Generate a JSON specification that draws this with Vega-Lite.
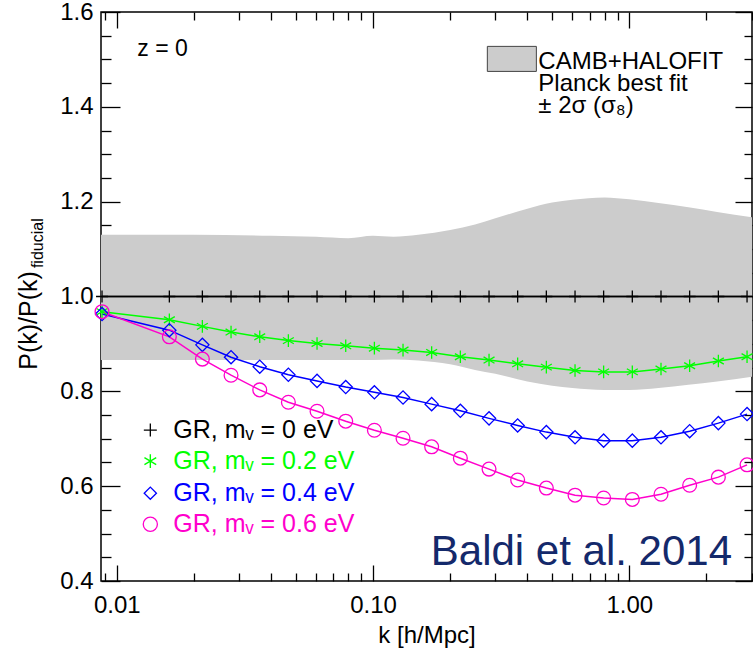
{
  "$schema": "https://vega.github.io/schema/vega-lite/v6.json",
  "width": 651,
  "height": 569,
  "autosize": {"type": "none"},
  "padding": {"left": 101, "top": 12, "right": 1, "bottom": 69},
  "config": {
    "view": {"stroke": "#000000", "strokeWidth": 1.5},
    "font": "Liberation Sans",
    "axis": {"grid": false, "domain": false, "tickColor": "#000000", "tickWidth": 1.3, "labelColor": "#000000", "titleColor": "#000000", "labelFont": "Liberation Sans", "titleFont": "Liberation Sans", "titleFontWeight": "normal", "labelOverlap": false, "labelFlush": false}
  },
  "datasets": {
    "band": [
      {"k": 0.00868, "lo": 0.866, "hi": 1.13},
      {"k": 0.02, "lo": 0.866, "hi": 1.13},
      {"k": 0.04, "lo": 0.866, "hi": 1.128},
      {"k": 0.06, "lo": 0.866, "hi": 1.126},
      {"k": 0.08, "lo": 0.866, "hi": 1.123},
      {"k": 0.1, "lo": 0.866, "hi": 1.128},
      {"k": 0.12, "lo": 0.867, "hi": 1.126},
      {"k": 0.15, "lo": 0.865, "hi": 1.13},
      {"k": 0.2, "lo": 0.857, "hi": 1.14},
      {"k": 0.25, "lo": 0.845, "hi": 1.152},
      {"k": 0.3, "lo": 0.837, "hi": 1.165},
      {"k": 0.4, "lo": 0.821, "hi": 1.185},
      {"k": 0.5, "lo": 0.812, "hi": 1.198},
      {"k": 0.6, "lo": 0.807, "hi": 1.204},
      {"k": 0.8, "lo": 0.803, "hi": 1.209},
      {"k": 1.0, "lo": 0.803, "hi": 1.205},
      {"k": 1.3, "lo": 0.807, "hi": 1.197},
      {"k": 1.7, "lo": 0.814, "hi": 1.188},
      {"k": 2.2, "lo": 0.821, "hi": 1.178},
      {"k": 3.01, "lo": 0.831, "hi": 1.167}
    ],
    "pk": [
      {"k": 0.00876, "s": "0", "r": 1}, {"k": 0.01604, "s": "0", "r": 1}, {"k": 0.02158, "s": "0", "r": 1}, {"k": 0.02792, "s": "0", "r": 1},
      {"k": 0.03613, "s": "0", "r": 1}, {"k": 0.04673, "s": "0", "r": 1}, {"k": 0.06046, "s": "0", "r": 1}, {"k": 0.07823, "s": "0", "r": 1},
      {"k": 0.1012, "s": "0", "r": 1}, {"k": 0.1309, "s": "0", "r": 1}, {"k": 0.1693, "s": "0", "r": 1}, {"k": 0.2191, "s": "0", "r": 1},
      {"k": 0.2835, "s": "0", "r": 1}, {"k": 0.3666, "s": "0", "r": 1}, {"k": 0.4744, "s": "0", "r": 1}, {"k": 0.6139, "s": "0", "r": 1},
      {"k": 0.7937, "s": "0", "r": 1}, {"k": 1.027, "s": "0", "r": 1}, {"k": 1.329, "s": "0", "r": 1}, {"k": 1.719, "s": "0", "r": 1},
      {"k": 2.225, "s": "0", "r": 1}, {"k": 2.879, "s": "0", "r": 1},

      {"k": 0.00876, "s": "0.2", "r": 0.968}, {"k": 0.01604, "s": "0.2", "r": 0.951}, {"k": 0.02158, "s": "0.2", "r": 0.937}, {"k": 0.02792, "s": "0.2", "r": 0.925},
      {"k": 0.03613, "s": "0.2", "r": 0.915}, {"k": 0.04673, "s": "0.2", "r": 0.907}, {"k": 0.06046, "s": "0.2", "r": 0.901}, {"k": 0.07823, "s": "0.2", "r": 0.896},
      {"k": 0.1012, "s": "0.2", "r": 0.891}, {"k": 0.1309, "s": "0.2", "r": 0.887}, {"k": 0.1693, "s": "0.2", "r": 0.882}, {"k": 0.2191, "s": "0.2", "r": 0.873},
      {"k": 0.2835, "s": "0.2", "r": 0.866}, {"k": 0.3666, "s": "0.2", "r": 0.858}, {"k": 0.4744, "s": "0.2", "r": 0.851}, {"k": 0.6139, "s": "0.2", "r": 0.844},
      {"k": 0.7937, "s": "0.2", "r": 0.841}, {"k": 1.027, "s": "0.2", "r": 0.841}, {"k": 1.329, "s": "0.2", "r": 0.847}, {"k": 1.719, "s": "0.2", "r": 0.854},
      {"k": 2.225, "s": "0.2", "r": 0.864}, {"k": 2.879, "s": "0.2", "r": 0.873},

      {"k": 0.00876, "s": "0.4", "r": 0.963}, {"k": 0.01604, "s": "0.4", "r": 0.929}, {"k": 0.02158, "s": "0.4", "r": 0.898}, {"k": 0.02792, "s": "0.4", "r": 0.872},
      {"k": 0.03613, "s": "0.4", "r": 0.852}, {"k": 0.04673, "s": "0.4", "r": 0.835}, {"k": 0.06046, "s": "0.4", "r": 0.822}, {"k": 0.07823, "s": "0.4", "r": 0.809},
      {"k": 0.1012, "s": "0.4", "r": 0.798}, {"k": 0.1309, "s": "0.4", "r": 0.787}, {"k": 0.1693, "s": "0.4", "r": 0.773}, {"k": 0.2191, "s": "0.4", "r": 0.759},
      {"k": 0.2835, "s": "0.4", "r": 0.743}, {"k": 0.3666, "s": "0.4", "r": 0.728}, {"k": 0.4744, "s": "0.4", "r": 0.714}, {"k": 0.6139, "s": "0.4", "r": 0.703},
      {"k": 0.7937, "s": "0.4", "r": 0.696}, {"k": 1.027, "s": "0.4", "r": 0.696}, {"k": 1.329, "s": "0.4", "r": 0.703}, {"k": 1.719, "s": "0.4", "r": 0.716},
      {"k": 2.225, "s": "0.4", "r": 0.733}, {"k": 2.879, "s": "0.4", "r": 0.752},

      {"k": 0.00876, "s": "0.6", "r": 0.968}, {"k": 0.01604, "s": "0.6", "r": 0.915}, {"k": 0.02158, "s": "0.6", "r": 0.868}, {"k": 0.02792, "s": "0.6", "r": 0.834},
      {"k": 0.03613, "s": "0.6", "r": 0.803}, {"k": 0.04673, "s": "0.6", "r": 0.777}, {"k": 0.06046, "s": "0.6", "r": 0.758}, {"k": 0.07823, "s": "0.6", "r": 0.737},
      {"k": 0.1012, "s": "0.6", "r": 0.718}, {"k": 0.1309, "s": "0.6", "r": 0.701}, {"k": 0.1693, "s": "0.6", "r": 0.683}, {"k": 0.2191, "s": "0.6", "r": 0.659},
      {"k": 0.2835, "s": "0.6", "r": 0.636}, {"k": 0.3666, "s": "0.6", "r": 0.613}, {"k": 0.4744, "s": "0.6", "r": 0.596}, {"k": 0.6139, "s": "0.6", "r": 0.581},
      {"k": 0.7937, "s": "0.6", "r": 0.575}, {"k": 1.027, "s": "0.6", "r": 0.572}, {"k": 1.329, "s": "0.6", "r": 0.583}, {"k": 1.719, "s": "0.6", "r": 0.602},
      {"k": 2.225, "s": "0.6", "r": 0.619}, {"k": 2.879, "s": "0.6", "r": 0.645}
    ]
  },
  "layer": [
    {
      "data": {"name": "band"},
      "mark": {"type": "area", "color": "#cccccc", "interpolate": "monotone"},
      "encoding": {
        "x": {"field": "k", "type": "quantitative", "scale": {"type": "log", "domain": [0.00868, 3.01], "nice": false},
          "axis": {"orient": "bottom",
            "values": [0.009, 0.01, 0.02, 0.03, 0.04, 0.05, 0.06, 0.07, 0.08, 0.09, 0.1, 0.2, 0.3, 0.4, 0.5, 0.6, 0.7, 0.8, 0.9, 1, 2, 3],
            "labelExpr": "(datum.value == 0.01 || datum.value == 0.1 || datum.value == 1) ? format(datum.value, '.2f') : ''",
            "tickSize": {"condition": {"test": "datum.value == 0.01 || datum.value == 0.1 || datum.value == 1", "value": -16}, "value": -8},
            "labelFontSize": 24, "labelBaseline": "middle", "labelPadding": 40,
            "title": "k [h/Mpc]", "titleFontSize": 24, "titleY": 54, "titleBaseline": "middle"}},
        "y": {"field": "lo", "type": "quantitative", "scale": {"domain": [0.4, 1.6], "nice": false, "zero": false},
          "axis": {"orient": "left",
            "values": [0.4, 0.45, 0.5, 0.55, 0.6, 0.65, 0.7, 0.75, 0.8, 0.85, 0.9, 0.95, 1, 1.05, 1.1, 1.15, 1.2, 1.25, 1.3, 1.35, 1.4, 1.45, 1.5, 1.55, 1.6],
            "labelExpr": "round(datum.value * 100) % 20 == 0 ? format(datum.value, '.1f') : ''",
            "tickSize": {"condition": {"test": "round(datum.value * 100) % 20 == 0", "value": -19}, "value": -10},
            "labelFontSize": 24, "labelPadding": 27,
            "title": "P(k)/P(k)", "titleFontSize": 25, "titleAngle": 270, "titleX": -73, "titleY": 308, "titleAlign": "center", "titleBaseline": "middle"}},
        "y2": {"field": "hi"}
      }
    },
    {
      "data": {"values": [{}]},
      "mark": {"type": "rule", "color": "#000000", "strokeWidth": 1.6},
      "encoding": {
        "y": {"datum": 1, "type": "quantitative", "scale": {"domain": [0.4, 1.6], "nice": false, "zero": false}, "axis": null}
      }
    },
    {
      "data": {"name": "pk"},
      "mark": {"type": "line", "strokeWidth": 1.5},
      "encoding": {
        "x": {"field": "k", "type": "quantitative", "scale": {"type": "log", "domain": [0.00868, 3.01], "nice": false},
          "axis": {"orient": "top", "labels": false, "title": null,
            "values": [0.009, 0.01, 0.02, 0.03, 0.04, 0.05, 0.06, 0.07, 0.08, 0.09, 0.1, 0.2, 0.3, 0.4, 0.5, 0.6, 0.7, 0.8, 0.9, 1, 2, 3],
            "tickSize": {"condition": {"test": "datum.value == 0.01 || datum.value == 0.1 || datum.value == 1", "value": -16}, "value": -8}}},
        "y": {"field": "r", "type": "quantitative", "scale": {"domain": [0.4, 1.6], "nice": false, "zero": false},
          "axis": {"orient": "right", "labels": false, "title": null,
            "values": [0.4, 0.45, 0.5, 0.55, 0.6, 0.65, 0.7, 0.75, 0.8, 0.85, 0.9, 0.95, 1, 1.05, 1.1, 1.15, 1.2, 1.25, 1.3, 1.35, 1.4, 1.45, 1.5, 1.55, 1.6],
            "tickSize": {"condition": {"test": "round(datum.value * 100) % 20 == 0", "value": -17}, "value": -8}}},
        "stroke": {"field": "s", "type": "nominal", "scale": {"domain": ["0", "0.2", "0.4", "0.6"], "range": ["#000000", "#00ff00", "#0000ff", "#ff00cc"]}, "legend": null}
      }
    },
    {
      "data": {"name": "pk"},
      "mark": {"type": "point", "filled": false, "strokeWidth": 1.3, "opacity": 1},
      "encoding": {
        "x": {"field": "k", "type": "quantitative", "scale": {"type": "log", "domain": [0.00868, 3.01], "nice": false}, "axis": null},
        "y": {"field": "r", "type": "quantitative", "scale": {"domain": [0.4, 1.6], "nice": false, "zero": false}, "axis": null},
        "color": {"field": "s", "type": "nominal", "scale": {"domain": ["0", "0.2", "0.4", "0.6"], "range": ["#000000", "#00ff00", "#0000ff", "#ff00cc"]}, "legend": null},
        "shape": {"field": "s", "type": "nominal", "scale": {"domain": ["0", "0.2", "0.4", "0.6"], "range": ["M-1,0L1,0M0,-1L0,1", "M0,-1L0,1M-0.866,-0.5L0.866,0.5M-0.866,0.5L0.866,-0.5", "diamond", "circle"]}, "legend": null},
        "size": {"field": "s", "type": "ordinal", "scale": {"domain": ["0", "0.2", "0.4", "0.6"], "range": [144, 190, 125, 140]}, "legend": null}
      }
    },
    {
      "data": {"values": [{}]},
      "mark": {"type": "point", "filled": false, "size": 169, "strokeWidth": 1.3, "opacity": 1},
      "encoding": {
        "x": {"datum": 0.01352, "type": "quantitative", "scale": {"type": "log", "domain": [0.00868, 3.01], "nice": false}, "axis": null},
        "y": {"datum": 0.7183, "type": "quantitative", "scale": {"domain": [0.4, 1.6], "nice": false, "zero": false}, "axis": null},
        "color": {"datum": "0", "type": "nominal", "legend": null},
        "shape": {"datum": "0", "type": "nominal", "legend": null}
      }
    },
    {
      "data": {"values": [{}]},
      "mark": {"type": "point", "filled": false, "size": 185, "strokeWidth": 1.4, "opacity": 1},
      "encoding": {
        "x": {"datum": 0.01352, "type": "quantitative", "scale": {"type": "log", "domain": [0.00868, 3.01], "nice": false}, "axis": null},
        "y": {"datum": 0.6528, "type": "quantitative", "scale": {"domain": [0.4, 1.6], "nice": false, "zero": false}, "axis": null},
        "color": {"datum": "0.2", "type": "nominal", "legend": null},
        "shape": {"datum": "0.2", "type": "nominal", "legend": null}
      }
    },
    {
      "data": {"values": [{}]},
      "mark": {"type": "point", "filled": false, "size": 150, "strokeWidth": 1.3, "opacity": 1},
      "encoding": {
        "x": {"datum": 0.01352, "type": "quantitative", "scale": {"type": "log", "domain": [0.00868, 3.01], "nice": false}, "axis": null},
        "y": {"datum": 0.5852, "type": "quantitative", "scale": {"domain": [0.4, 1.6], "nice": false, "zero": false}, "axis": null},
        "color": {"datum": "0.4", "type": "nominal", "legend": null},
        "shape": {"datum": "0.4", "type": "nominal", "legend": null}
      }
    },
    {
      "data": {"values": [{}]},
      "mark": {"type": "point", "filled": false, "size": 200, "strokeWidth": 1.3, "opacity": 1},
      "encoding": {
        "x": {"datum": 0.01352, "type": "quantitative", "scale": {"type": "log", "domain": [0.00868, 3.01], "nice": false}, "axis": null},
        "y": {"datum": 0.5197, "type": "quantitative", "scale": {"domain": [0.4, 1.6], "nice": false, "zero": false}, "axis": null},
        "color": {"datum": "0.6", "type": "nominal", "legend": null},
        "shape": {"datum": "0.6", "type": "nominal", "legend": null}
      }
    },
    {
      "data": {"values": [{}]},
      "mark": {"type": "text", "text": "GR, mᵥ = 0 eV", "font": "Liberation Sans", "fontSize": 25, "align": "left", "baseline": "middle"},
      "encoding": {
        "x": {"datum": 0.01663, "type": "quantitative", "scale": {"type": "log", "domain": [0.00868, 3.01], "nice": false}, "axis": null},
        "y": {"datum": 0.7183, "type": "quantitative", "scale": {"domain": [0.4, 1.6], "nice": false, "zero": false}, "axis": null},
        "color": {"datum": "0", "type": "nominal", "legend": null}
      }
    },
    {
      "data": {"values": [{}]},
      "mark": {"type": "text", "text": "GR, mᵥ = 0.2 eV", "font": "Liberation Sans", "fontSize": 25, "align": "left", "baseline": "middle"},
      "encoding": {
        "x": {"datum": 0.01663, "type": "quantitative", "scale": {"type": "log", "domain": [0.00868, 3.01], "nice": false}, "axis": null},
        "y": {"datum": 0.6528, "type": "quantitative", "scale": {"domain": [0.4, 1.6], "nice": false, "zero": false}, "axis": null},
        "color": {"datum": "0.2", "type": "nominal", "legend": null}
      }
    },
    {
      "data": {"values": [{}]},
      "mark": {"type": "text", "text": "GR, mᵥ = 0.4 eV", "font": "Liberation Sans", "fontSize": 25, "align": "left", "baseline": "middle"},
      "encoding": {
        "x": {"datum": 0.01663, "type": "quantitative", "scale": {"type": "log", "domain": [0.00868, 3.01], "nice": false}, "axis": null},
        "y": {"datum": 0.5852, "type": "quantitative", "scale": {"domain": [0.4, 1.6], "nice": false, "zero": false}, "axis": null},
        "color": {"datum": "0.4", "type": "nominal", "legend": null}
      }
    },
    {
      "data": {"values": [{}]},
      "mark": {"type": "text", "text": "GR, mᵥ = 0.6 eV", "font": "Liberation Sans", "fontSize": 25, "align": "left", "baseline": "middle"},
      "encoding": {
        "x": {"datum": 0.01663, "type": "quantitative", "scale": {"type": "log", "domain": [0.00868, 3.01], "nice": false}, "axis": null},
        "y": {"datum": 0.5197, "type": "quantitative", "scale": {"domain": [0.4, 1.6], "nice": false, "zero": false}, "axis": null},
        "color": {"datum": "0.6", "type": "nominal", "legend": null}
      }
    },
    {
      "data": {"values": [{}]},
      "mark": {"type": "rect", "fill": "#cccccc", "stroke": "#444444", "strokeWidth": 1},
      "encoding": {
        "x": {"datum": 0.2792, "type": "quantitative", "scale": {"type": "log", "domain": [0.00868, 3.01], "nice": false}, "axis": null},
        "x2": {"datum": 0.4337},
        "y": {"datum": 1.5275, "type": "quantitative", "scale": {"domain": [0.4, 1.6], "nice": false, "zero": false}, "axis": null},
        "y2": {"datum": 1.4747}
      }
    },
    {
      "data": {"values": [{}]},
      "mark": {"type": "text", "text": ["CAMB+HALOFIT", "Planck best fit", "± 2σ (σ₈)"], "font": "Liberation Sans", "fontSize": 24, "lineHeight": 22, "align": "left", "baseline": "middle", "color": "#000000"},
      "encoding": {
        "x": {"datum": 0.4415, "type": "quantitative", "scale": {"type": "log", "domain": [0.00868, 3.01], "nice": false}, "axis": null},
        "y": {"datum": 1.4937, "type": "quantitative", "scale": {"domain": [0.4, 1.6], "nice": false, "zero": false}, "axis": null}
      }
    },
    {
      "data": {"values": [{}]},
      "mark": {"type": "text", "text": "z = 0", "font": "Liberation Sans", "fontSize": 23, "align": "left", "baseline": "middle", "color": "#000000"},
      "encoding": {
        "x": {"datum": 0.01203, "type": "quantitative", "scale": {"type": "log", "domain": [0.00868, 3.01], "nice": false}, "axis": null},
        "y": {"datum": 1.522, "type": "quantitative", "scale": {"domain": [0.4, 1.6], "nice": false, "zero": false}, "axis": null}
      }
    },
    {
      "data": {"values": [{}]},
      "mark": {"type": "text", "text": "Baldi et al. 2014", "font": "Liberation Sans", "fontSize": 42, "align": "right", "baseline": "alphabetic", "color": "#14296b"},
      "encoding": {
        "x": {"datum": 2.515, "type": "quantitative", "scale": {"type": "log", "domain": [0.00868, 3.01], "nice": false}, "axis": null},
        "y": {"datum": 0.433, "type": "quantitative", "scale": {"domain": [0.4, 1.6], "nice": false, "zero": false}, "axis": null}
      }
    },
    {
      "data": {"values": [{}]},
      "mark": {"type": "text", "text": "fiducial", "font": "Liberation Sans", "fontSize": 16, "angle": 270, "align": "center", "baseline": "middle", "color": "#000000"},
      "encoding": {
        "x": {"datum": 0.00494, "type": "quantitative", "scale": {"type": "log", "domain": [0.00868, 3.01], "nice": false}, "axis": null},
        "y": {"datum": 1.1124, "type": "quantitative", "scale": {"domain": [0.4, 1.6], "nice": false, "zero": false}, "axis": null}
      }
    }
  ],
  "resolve": {"axis": {"x": "independent", "y": "independent"}}
}
